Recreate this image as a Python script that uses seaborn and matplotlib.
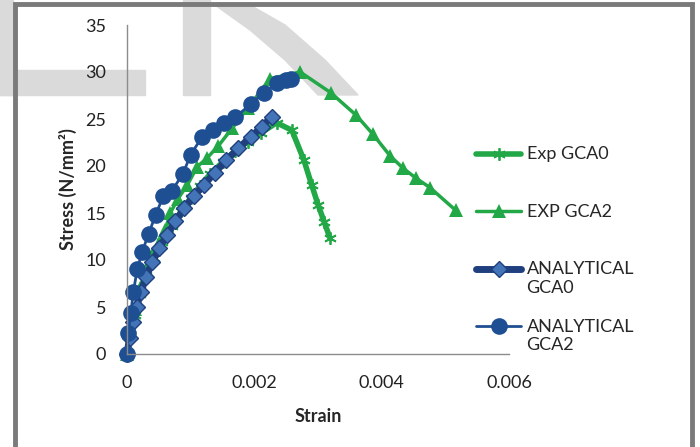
import matplotlib
matplotlib.use("Agg")
import matplotlib.pyplot as plt
import seaborn as sns
from matplotlib.patches import Rectangle, Polygon

# Stress-strain data
exp_gca0_strain = [0, 0.00005, 0.00012, 0.00020, 0.00030, 0.00042, 0.00055, 0.00070, 0.00085, 0.00100,
                   0.00115, 0.00130, 0.00150, 0.00170, 0.00190, 0.00210, 0.00235, 0.00259, 0.00278,
                   0.00290, 0.00300, 0.00310, 0.00319]
exp_gca0_stress = [0, 2.0, 4.2, 6.4, 8.4, 10.2, 11.9, 13.6, 15.2, 16.6,
                   17.9, 19.1, 20.4, 21.6, 22.6, 23.5, 24.6, 23.8, 20.6,
                   18.0, 15.9, 14.0, 12.3]

exp_gca2_strain = [0, 0.00005, 0.00012, 0.00020, 0.00030, 0.00040, 0.00050, 0.00060, 0.00068, 0.00080,
                   0.00095, 0.00110, 0.00125, 0.00143, 0.00165, 0.00190, 0.00225, 0.00272, 0.00320,
                   0.00360, 0.00386, 0.00413, 0.00433, 0.00454, 0.00476, 0.00516]
exp_gca2_stress = [0, 2.5, 4.8, 7.0, 9.0, 10.5, 11.8, 13.2, 15.0, 16.5,
                   18.0, 19.9, 20.8, 22.1, 24.0, 26.2, 29.3, 30.0, 27.8,
                   25.4, 23.4, 21.1, 19.8, 18.7, 17.7, 15.3]

ana_gca0_strain = [0, 0.00004, 0.00009, 0.00015, 0.00022, 0.00030, 0.00040, 0.00051, 0.00063, 0.00076,
                   0.00090, 0.00105, 0.00121, 0.00138, 0.00156, 0.00175, 0.00195, 0.00212, 0.00227]
ana_gca0_stress = [0, 1.7, 3.4, 5.0, 6.6, 8.2, 9.8, 11.3, 12.7, 14.1,
                   15.5, 16.8, 18.0, 19.3, 20.6, 21.9, 23.1, 24.2, 25.2]

ana_gca2_strain = [0, 0.00002, 0.00006, 0.00010, 0.00016, 0.00024, 0.00034, 0.00045, 0.00057, 0.00070,
                   0.00088, 0.00100, 0.00118, 0.00135, 0.00152, 0.00170, 0.00195, 0.00215, 0.00235,
                   0.00250, 0.00257]
ana_gca2_stress = [0, 2.2, 4.4, 6.6, 9.0, 10.9, 12.8, 14.8, 16.8, 17.3,
                   19.2, 21.2, 23.1, 23.8, 24.6, 25.2, 26.6, 27.8, 28.8,
                   29.1, 29.3]

x_ticks = [0, 0.002, 0.004, 0.006]
x_tick_labels = ["0", "0.002", "0.004", "0.006"]
y_ticks = [0, 5, 10, 15, 20, 25, 30, 35]

green = "#22a846"
navy = "#1f3f7e"
blue = "#1f4f93"

sns.set_style("white")
plt.rcParams["font.family"] = ["Lato", "DejaVu Sans"]

fig = plt.figure(figsize=(7, 4.47), dpi=100)

# watermark shapes from the scanned page (behind everything) and the outer frame
wm = "#dadada"
tf = fig.transFigure
fig.patches.append(Rectangle((0, 1 - 95 / 447), 13 / 700, 95 / 447, transform=tf, color=wm, zorder=-5))
fig.patches.append(Rectangle((0, 1 - 95 / 447), 145 / 700, 25 / 447, transform=tf, color=wm, zorder=-5))
fig.patches.append(Rectangle((183 / 700, 1 - 95 / 447), 27 / 700, 95 / 447, transform=tf, color=wm, zorder=-5))
fig.patches.append(Polygon([(215 / 700, 1 - 5 / 447), (250 / 700, 1 - 5 / 447), (285 / 700, 1 - 25 / 447),
                            (325 / 700, 1 - 60 / 447), (358 / 700, 1 - 95 / 447), (318 / 700, 1 - 95 / 447),
                            (285 / 700, 1 - 60 / 447), (250 / 700, 1 - 30 / 447)],
                           closed=True, transform=tf, color=wm, zorder=-5))
fig.patches.append(Rectangle((15 / 700, -0.02), 677 / 700, 1.02 - 4 / 447, transform=tf,
                             fill=False, edgecolor="#7a7a7a", linewidth=3.5, zorder=5))

ax = fig.add_axes([127 / 700, 1 - 354 / 447, 382 / 700, 329 / 447])
ax.set_facecolor("none")

sns.lineplot(x=exp_gca0_strain, y=exp_gca0_stress, ax=ax, sort=False, color=green, linewidth=4,
             marker=(6, 2, 0), markersize=9, markeredgewidth=1.3, markeredgecolor=green,
             label="Exp GCA0")
sns.lineplot(x=exp_gca2_strain, y=exp_gca2_stress, ax=ax, sort=False, color=green, linewidth=2.5,
             marker="^", markersize=10, markeredgewidth=0, label="EXP GCA2")
sns.lineplot(x=ana_gca0_strain, y=ana_gca0_stress, ax=ax, sort=False, color=navy, linewidth=5,
             marker="D", markersize=8, markerfacecolor="#4474b8", markeredgecolor=navy,
             markeredgewidth=1, label="ANALYTICAL\nGCA0")
sns.lineplot(x=ana_gca2_strain, y=ana_gca2_stress, ax=ax, sort=False, color=blue, linewidth=2,
             marker="o", markersize=12, markeredgewidth=0, label="ANALYTICAL\nGCA2")

ax.set_xlim(0, 0.006)
ax.set_ylim(0, 35)
ax.set_xticks(x_ticks)
ax.set_xticklabels(x_tick_labels)
ax.set_yticks(y_ticks)
ax.tick_params(length=0, labelsize=13, colors="#222222")
ax.tick_params(axis="y", pad=15)
ax.tick_params(axis="x", pad=15)
for side in ["top", "right"]:
    ax.spines[side].set_visible(False)
for side in ["left", "bottom"]:
    ax.spines[side].set_color("#8c8c8c")
    ax.spines[side].set_linewidth(1)
for line in ax.lines:
    line.set_clip_on(False)

ax.set_xlabel("Strain", fontsize=13, fontweight="bold", labelpad=12)
ax.set_ylabel("Stress (N/mm²)", fontsize=13, fontweight="bold", labelpad=6)

# every legend entry two lines tall, handle aligned with the first line
handles, labels = ax.get_legend_handles_labels()
labels = [lab if "\n" in lab else lab + "\n" for lab in labels]
leg = ax.legend(handles, labels, loc="upper left", bbox_to_anchor=(476 / 700, 1 - 146 / 447),
                bbox_transform=tf, frameon=False, fontsize=13, handlelength=2.5,
                handleheight=1.2, handletextpad=0.3, labelspacing=1.27,
                borderpad=0, borderaxespad=0)
for col in leg._legend_handle_box.get_children():
    for row in col.get_children():
        row.align = "top"

fig.savefig("out.png", dpi=100)
